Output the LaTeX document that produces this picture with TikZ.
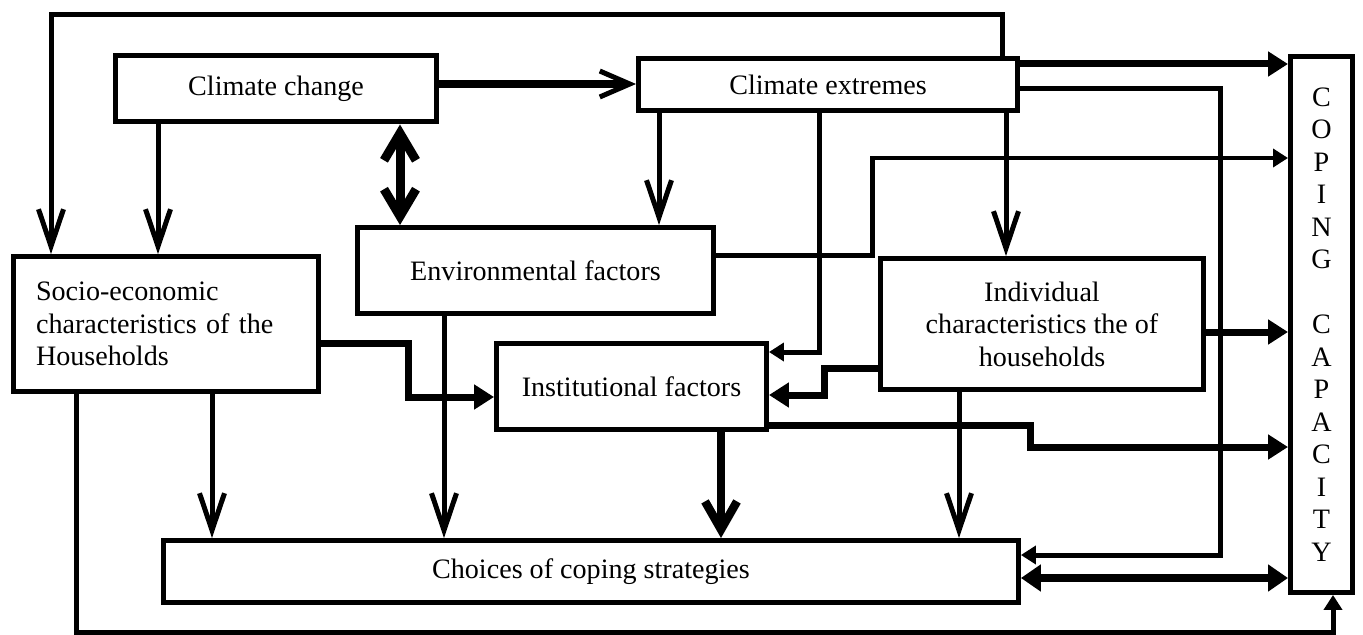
\documentclass[tikz,border=0pt]{standalone}
\usepackage{fontspec}
\setmainfont{Liberation Serif}
\usetikzlibrary{arrows.meta,calc}
\tikzset{
  blk/.style={draw=black,line width=1mm,fill=white,inner sep=0pt,
    font=\fontsize{16}{18.5}\selectfont,align=center},
  arr/.style={-{Straight Barb[length=7.4mm,width=5mm]},line width=1mm},
  harr/.style={-{Straight Barb[length=6mm,width=5.2mm,line width=1mm]},line width=1.7mm},
  bigarr/.style={-{Straight Barb[length=5.6mm,width=6.4mm]},line width=1.7mm},
  eq/.style={{Straight Barb[length=5.4mm,width=6.4mm]}-{Straight Barb[length=5.4mm,width=6.4mm]},
    line width=1.8mm},
  tri/.style={-{Triangle[length=3mm,width=3.6mm]},line width=1mm},
  bigtri/.style={-{Triangle[length=4mm,width=4.8mm]},line width=1.4mm},
  eqtri/.style={{Triangle[length=4mm,width=5.2mm]}-{Triangle[length=4mm,width=5.2mm]},
    line width=1.7mm},
}
\begin{document}
\begin{tikzpicture}[x=0.02cm,y=-0.02cm]
  \useasboundingbox (0,0) rectangle (1363,635);
  % boxes
  \node[blk,minimum width=6.44cm,minimum height=1.34cm] (cc) at (276,88.5) {Climate change};
  \node[blk,minimum width=7.58cm,minimum height=1.04cm] (ce) at (828,84.5) {Climate extremes};
  \node[blk,minimum width=7.12cm,minimum height=1.72cm] (env) at (535.5,270.5) {Environmental factors};
  \node[blk,minimum width=6.1cm,minimum height=2.7cm,text width=5.2cm,align=left] (socio) at (166,324)
    {Socio-economic\\characteristics of the\\Households\par\vspace*{0.24cm}};
  \node[blk,minimum width=5.4cm,minimum height=1.72cm] (inst) at (631.5,386.5) {Institutional factors};
  \node[blk,minimum width=6.46cm,minimum height=2.62cm] (indiv) at (1042,324)
    {Individual\\characteristics the of\\households};
  \node[blk,minimum width=17.1cm,minimum height=1.24cm] (choice) at (591,571.5)
    {Choices of coping strategies};
  \node[blk,minimum width=1.24cm,minimum height=10.72cm] (cope) at (1321.5,324.5)
    {C\\O\\P\\I\\N\\G\\[18.5pt]C\\A\\P\\A\\C\\I\\T\\Y};
  % links
  \draw[arr] (ce.north -| 1002,0) -- (1002,15) -| (socio.north -| 51,0);
  \draw[harr] (cc.east |- 0,84) -- (ce.west |- 0,84);
  \draw[arr] (cc.south -| 158,0) -- (socio.north -| 158,0);
  \draw[eq] (cc.south -| 400,0) -- (env.north -| 400,0);
  \draw[arr] (ce.south -| 659,0) -- (env.north -| 659,0);
  \draw[tri] (ce.south -| 819,0) |- (inst.east |- 0,352);
  \draw[arr] (ce.south -| 1006,0) -- (indiv.north -| 1006,0);
  \draw[bigtri] (ce.east |- 0,64) -- (cope.west |- 0,64);
  \draw[tri] (ce.east |- 0,89) -| (1220,555) -- (choice.east |- 0,555);
  \draw[tri] (env.east |- 0,255) -| (872,158) -- (cope.west |- 0,158);
  \draw[arr] (env.south -| 444,0) -- (choice.north -| 444,0);
  \draw[bigtri] (socio.east |- 0,343) -| (408,397) -- (inst.west |- 0,397);
  \draw[arr] (socio.south -| 212,0) -- (choice.north -| 212,0);
  \draw[tri] (socio.south -| 76,0) |- (1333,632) -- (cope.south -| 1333,0);
  \draw[bigtri] (indiv.west |- 0,368) -| (824,395) -- (inst.east |- 0,395);
  \draw[bigtri] (indiv.east |- 0,332) -- (cope.west |- 0,332);
  \draw[arr] (indiv.south -| 959,0) -- (choice.north -| 959,0);
  \draw[bigarr] (inst.south -| 721,0) -- (choice.north -| 721,0);
  \draw[bigtri] (inst.east |- 0,425) -| (1030,447) -- (cope.west |- 0,447);
  \draw[eqtri] (choice.east |- 0,578) -- (cope.west |- 0,578);
\end{tikzpicture}
\end{document}
